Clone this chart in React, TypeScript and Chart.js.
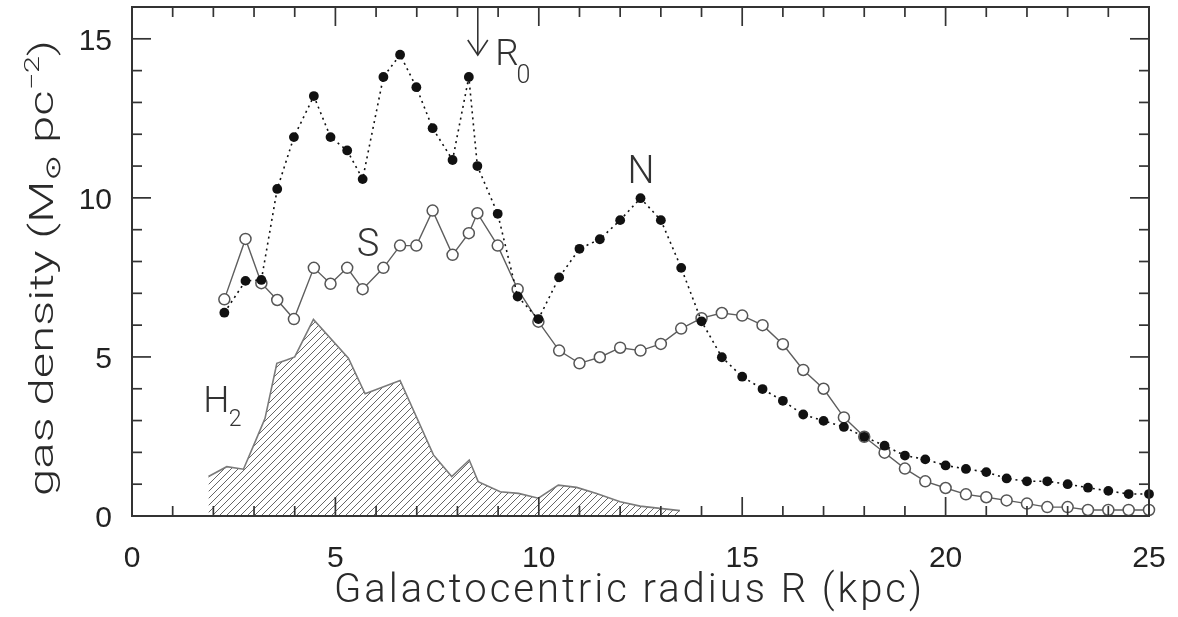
import { useEffect, useRef } from 'react';
import { Chart, registerables } from 'chart.js';

Chart.register(...registerables);

// Galactocentric radius (kpc) shared by the N and S HI profiles
const radiusKpc = [
  2.27, 2.79, 3.18, 3.57, 3.98, 4.47, 4.88, 5.29, 5.67, 6.18,
  6.59, 6.99, 7.39, 7.88, 8.28, 8.49, 8.99, 9.48, 9.99, 10.5,
  11.0, 11.5, 12.0, 12.5, 13.0, 13.5, 14.0, 14.5, 15.0, 15.5,
  16.0, 16.5, 17.0, 17.5, 18.0, 18.5, 19.0, 19.5, 20.0, 20.5,
  21.0, 21.5, 22.0, 22.5, 23.0, 23.5, 24.0, 24.5, 25.0,
];
// North (filled dots, dotted line)
const northDensity = [
  6.39, 7.39, 7.42, 10.28, 11.91, 13.2, 11.91, 11.49, 10.59, 13.8,
  14.5, 13.48, 12.19, 11.19, 13.8, 11.0, 9.5, 6.9, 6.19, 7.5,
  8.4, 8.7, 9.3, 9.99, 9.3, 7.8, 6.12, 4.99, 4.38, 3.99,
  3.62, 3.19, 2.99, 2.8, 2.49, 2.21, 1.9, 1.78, 1.59, 1.48,
  1.38, 1.18, 1.09, 1.09, 1.0, 0.89, 0.79, 0.69, 0.69,
];
// South (open circles, solid line)
const southDensity = [
  6.81, 8.71, 7.32, 6.79, 6.19, 7.8, 7.3, 7.8, 7.13, 7.8,
  8.5, 8.5, 9.6, 8.21, 8.89, 9.52, 8.5, 7.13, 6.11, 5.2,
  4.8, 4.99, 5.29, 5.2, 5.41, 5.89, 6.22, 6.38, 6.3, 6.0,
  5.4, 4.59, 4.0, 3.1, 2.49, 1.99, 1.49, 1.09, 0.88, 0.68,
  0.59, 0.49, 0.39, 0.28, 0.28, 0.19, 0.19, 0.19, 0.19,
];
// Molecular gas H2 (hatched area)
const h2Radius = [
  1.88, 2.33, 2.74, 3.05, 3.27, 3.56, 3.8, 4.0, 4.46, 5.32,
  5.73, 6.59, 7.41, 7.86, 8.29, 8.51, 9.05, 9.5, 9.99, 10.48,
  10.93, 11.42, 12.0, 12.49, 12.98, 13.47,
];
const h2Density = [
  1.24, 1.55, 1.47, 2.4, 3.07, 4.8, 4.9, 5.0, 6.18, 4.96,
  3.84, 4.26, 1.92, 1.24, 1.76, 1.08, 0.76, 0.71, 0.56, 0.97,
  0.9, 0.71, 0.45, 0.31, 0.24, 0.17,
];

const xTickValues = [0, 5, 10, 15, 20, 25];
const yTickValues = [0, 5, 10, 15];
const R0 = 8.5;

const FONT = '"Liberation Sans", Arial, sans-serif';
const LIGHT = '300 {s}px Roboto, "Liberation Sans", Arial, sans-serif';
const light = (s: number) => LIGHT.replace('{s}', String(s));

function makeHatch(ctx: CanvasRenderingContext2D): CanvasPattern | string {
  const c = document.createElement('canvas');
  const s = 7;
  c.width = s;
  c.height = s;
  const g = c.getContext('2d');
  if (!g) return '#ccc';
  g.strokeStyle = '#666';
  g.lineWidth = 1.0;
  g.beginPath();
  g.moveTo(-1, s + 1);
  g.lineTo(s + 1, -1);
  g.moveTo(-2, 2);
  g.lineTo(2, -2);
  g.moveTo(s - 2, s + 2);
  g.lineTo(s + 2, s - 2);
  g.stroke();
  return ctx.createPattern(c, 'repeat') || '#ccc';
}

function fitText(ctx: any, text: string, x: number, y: number, target: number) {
  const w = ctx.measureText(text).width;
  if ('letterSpacing' in ctx && text.length > 1) {
    const ls = (target - w) / (text.length - 1);
    ctx.letterSpacing = `${ls}px`;
    ctx.textAlign = 'left';
    ctx.fillText(text, x - target / 2, y);
    ctx.letterSpacing = '0px';
  } else {
    ctx.save();
    ctx.translate(x, y);
    ctx.scale(target / w, 1);
    ctx.textAlign = 'center';
    ctx.fillText(text, 0, 0);
    ctx.restore();
  }
}

const overlay = {
  id: 'overlay',
  afterDraw(chart: any) {
    const { ctx, chartArea: a } = chart;
    const xs = chart.scales.x;
    const ys = chart.scales.y;
    ctx.save();
    ctx.strokeStyle = '#333';
    ctx.lineWidth = 1.7;
    ctx.lineCap = 'butt';
    const seg = (x1: number, y1: number, x2: number, y2: number) => {
      ctx.beginPath();
      ctx.moveTo(x1, y1);
      ctx.lineTo(x2, y2);
      ctx.stroke();
    };
    // inward ticks on all four sides
    for (let v = xs.min; v <= xs.max; v += 1) {
      const px = xs.getPixelForValue(v);
      const len = v % 5 === 0 ? 19 : 10;
      seg(px, a.bottom, px, a.bottom - len);
      seg(px, a.top, px, a.top + len);
    }
    for (let v = ys.min; v <= ys.max; v += 1) {
      const py = ys.getPixelForValue(v);
      const len = v % 5 === 0 ? 19 : 10;
      seg(a.left, py, a.left + len, py);
      seg(a.right, py, a.right - len, py);
    }
    ctx.lineWidth = 2;
    ctx.strokeRect(a.left, a.top, a.right - a.left, a.bottom - a.top);

    // tick labels
    ctx.fillStyle = '#222';
    ctx.font = `30px ${FONT}`;
    ctx.textAlign = 'center';
    ctx.textBaseline = 'alphabetic';
    xTickValues.forEach((v) => {
      ctx.fillText(String(v), xs.getPixelForValue(v), a.bottom + 51);
    });
    ctx.textAlign = 'right';
    yTickValues.forEach((v) => {
      ctx.fillText(String(v), a.left - 20, ys.getPixelForValue(v) + 11);
    });

    // x title
    ctx.fillStyle = '#2a2a2a';
    ctx.font = light(40);
    ctx.textBaseline = 'alphabetic';
    fitText(ctx, 'Galactocentric radius R (kpc)', 628, a.bottom + 86, 588);

    // y title (rotated, with subscript sun symbol and superscript)
    ctx.save();
    ctx.translate(53, 268);
    ctx.rotate(-Math.PI / 2);
    const base = 34;
    const parts = [
      { t: 'gas density (M', s: base, dy: 0, f: light },
      { t: '\u2299', s: base * 0.62, dy: 7, f: (s: number) => `${s}px "DejaVu Sans", sans-serif` },
      { t: ' pc', s: base, dy: 0, f: light },
      { t: '\u22122', s: base * 0.62, dy: -14, f: light },
      { t: ')', s: base, dy: 0, f: light },
    ];
    let total = 0;
    const widths = parts.map((p) => {
      ctx.font = p.f(p.s);
      const w = ctx.measureText(p.t).width;
      total += w;
      return w;
    });
    const target = 456;
    ctx.scale(target / total, 1);
    let xp = -total / 2;
    ctx.textAlign = 'left';
    parts.forEach((p, i) => {
      ctx.font = p.f(p.s);
      ctx.fillText(p.t, xp, p.dy);
      xp += widths[i];
    });
    ctx.restore();

    // annotations
    ctx.fillStyle = '#333';
    ctx.strokeStyle = '#333';
    ctx.lineWidth = 1.6;
    const ax = xs.getPixelForValue(R0);
    seg(ax, a.top, ax, a.top + 48);
    ctx.beginPath();
    ctx.moveTo(ax - 10, a.top + 33);
    ctx.lineTo(ax, a.top + 48);
    ctx.lineTo(ax + 10, a.top + 33);
    ctx.stroke();

    ctx.textAlign = 'left';
    ctx.font = light(37);
    ctx.fillText('R', xs.getPixelForValue(8.93), ys.getPixelForValue(14.18));
    ctx.font = light(25);
    ctx.fillText('0', xs.getPixelForValue(9.45), ys.getPixelForValue(13.6));

    ctx.textAlign = 'center';
    ctx.font = light(38);
    ctx.fillText('N', xs.getPixelForValue(12.51), ys.getPixelForValue(10.46));
    ctx.fillText('S', xs.getPixelForValue(5.8), ys.getPixelForValue(8.16));

    ctx.textAlign = 'left';
    ctx.font = light(37);
    ctx.fillText('H', xs.getPixelForValue(1.75), ys.getPixelForValue(3.27));
    ctx.font = light(23);
    ctx.fillText('2', xs.getPixelForValue(2.38), ys.getPixelForValue(2.82));
    ctx.restore();
  },
};

export default function App() {
  const ref = useRef<HTMLCanvasElement | null>(null);
  useEffect(() => {
    document.body.style.margin = '0';
    const canvas = ref.current;
    if (!canvas) return;
    const ctx = canvas.getContext('2d');
    if (!ctx) return;
    const hatch = makeHatch(ctx);
    const chart = new Chart(canvas, {
      type: 'line',
      data: {
        datasets: [
          {
            label: 'N',
            data: radiusKpc.map((r, i) => ({ x: r, y: northDensity[i] })),
            borderColor: '#111',
            borderWidth: 1.6,
            borderDash: [2, 4],
            pointRadius: 4.9,
            pointBackgroundColor: '#111',
            pointBorderColor: '#111',
            pointBorderWidth: 0,
            fill: false,
            order: 0,
            clip: false,
          } as any,
          {
            label: 'S',
            data: radiusKpc.map((r, i) => ({ x: r, y: southDensity[i] })),
            borderColor: '#5e5e5e',
            borderWidth: 1.4,
            pointRadius: 5.5,
            pointBackgroundColor: '#fff',
            pointBorderColor: '#555',
            pointBorderWidth: 1.5,
            fill: false,
            order: 1,
            clip: false,
          } as any,
          {
            label: 'H2',
            data: h2Radius.map((r, i) => ({ x: r, y: h2Density[i] })),
            borderColor: '#7a7a7a',
            borderWidth: 1.6,
            pointRadius: 0,
            fill: 'origin',
            backgroundColor: hatch,
            order: 2,
          } as any,
        ],
      },
      options: {
        animation: false,
        responsive: false,
        layout: { padding: { top: 7, right: 29, left: 0, bottom: 0 } },
        plugins: { legend: { display: false }, tooltip: { enabled: false } },
        elements: { line: { tension: 0 } },
        scales: {
          x: {
            type: 'linear',
            min: 0,
            max: 25,
            ticks: { display: false },
            grid: { display: false, drawTicks: false },
            border: { display: false },
            afterFit: (s: any) => {
              s.height = 101;
              s.paddingLeft = 0;
              s.paddingRight = 0;
            },
          },
          y: {
            type: 'linear',
            min: 0,
            max: 16,
            ticks: { display: false },
            grid: { display: false, drawTicks: false },
            border: { display: false },
            afterFit: (s: any) => {
              s.width = 132;
              s.paddingTop = 0;
              s.paddingBottom = 0;
            },
          },
        },
      } as any,
      plugins: [overlay],
    });
    return () => chart.destroy();
  }, []);
  return (
    <div style={{ width: 1178, height: 617, background: '#fff' }}>
      <canvas ref={ref} width={1178} height={617} style={{ display: 'block' }} />
    </div>
  );
}
